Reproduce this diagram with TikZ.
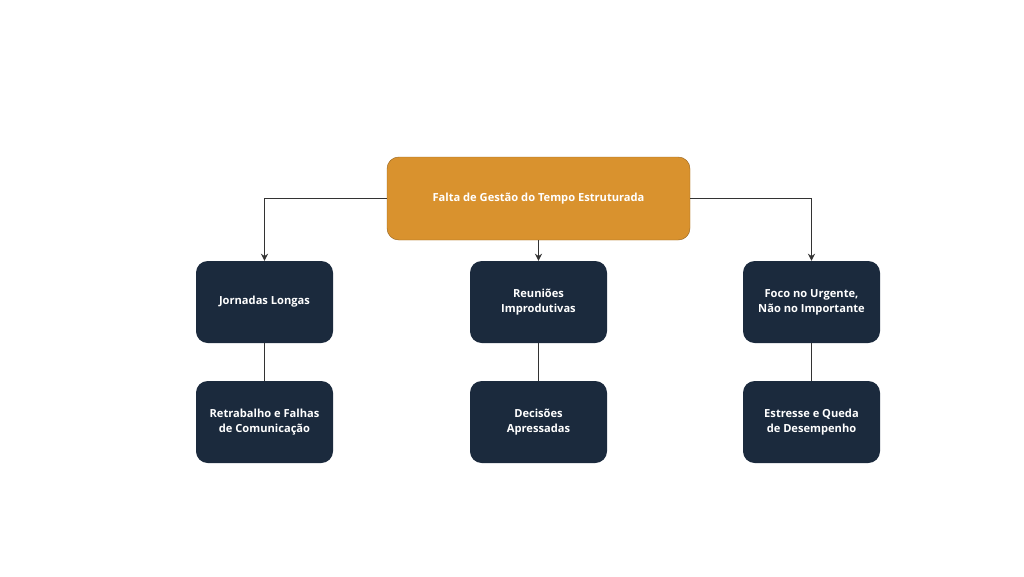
\documentclass[tikz,border=0pt]{standalone}
\usepackage{fontspec}
\setmainfont{Open Sans}
\usepackage{xcolor}
\usetikzlibrary{arrows.meta,positioning}
\definecolor{topfill}{HTML}{D9922E}
\definecolor{boxfill}{HTML}{1B2A3D}
\definecolor{linecol}{HTML}{333333}

\begin{document}
\begin{tikzpicture}[x=0.03cm,y=-0.03cm,
    rootbox/.style={draw=topfill!70!black, fill=topfill, rounded corners=10pt, minimum width=303*0.03cm, minimum height=83*0.03cm, text=white, font=\fontsize{9.5}{12}\selectfont\bfseries},
    causebox/.style={fill=boxfill, rounded corners=10pt, minimum width=137*0.03cm, minimum height=82*0.03cm, text=white, align=center, font=\fontsize{9.5}{13}\selectfont\bfseries},
    link/.style={draw=linecol, line width=1pt},
    arrow/.style={link, -{Stealth[length=6pt,width=6pt]}}]
    \useasboundingbox (0,0) rectangle (1024,576);

    % root
    \node[rootbox] (root) at (538.5,198.5) {Falta de Gestão do Tempo Estruturada};

    % first row
    \node[causebox] (long) at (264.5,302) {Jornadas Longas};
    \node[causebox] (meet) at (538.5,302) {Reuniões\\Improdutivas};
    \node[causebox] (urgent) at (811.5,302) {Foco no Urgente,\\Não no Importante};

    % second row
    \node[causebox] (rework) at (264.5,422) {Retrabalho e Falhas\\de Comunicação};
    \node[causebox] (rush) at (538.5,422) {Decisões\\Apressadas};
    \node[causebox] (stress) at (811.5,422) {Estresse e Queda\\de Desempenho};

    % connectors
    \draw[arrow] (root.west) -| (long.north);
    \draw[arrow] (root.south) -- (meet.north);
    \draw[arrow] (root.east) -| (urgent.north);
    \foreach \a/\b in {long/rework, meet/rush, urgent/stress}
        \draw[link] (\a.south) -- (\b.north);
\end{tikzpicture}
\end{document}
